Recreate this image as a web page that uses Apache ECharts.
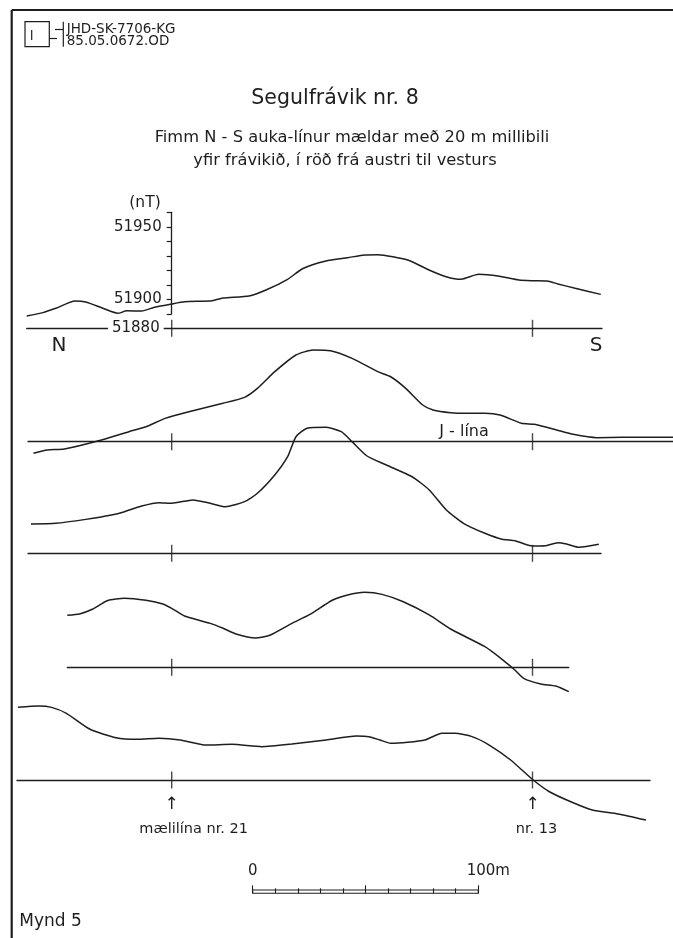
<!DOCTYPE html>
<html>
<head>
<meta charset="utf-8">
<script src="https://cdn.jsdelivr.net/npm/echarts@6/dist/echarts.min.js"></script>
<style>
html,body{margin:0;padding:0;background:#fff;}
#c{width:673px;height:938px;}
</style>
</head>
<body>
<div id="c"></div>
<script>
// ================= DATA =================
// distance along each N-S line in metres (0 = mælilína nr. 21, 160 = nr. 13)
// Profile 1 (easternmost) - total field in nT
const dist1 = [-64.3,-57.1,-51.4,-42.9,-38.1,-30.5,-23.8,-20.0,-13.3,-7.6,0,5.7,18.0,22.7,34.3,41.8,51.4,58.0,68.4,78.0,85.6,91.4,104.7,114.1,121.7,128.3,136.1,144.7,154.0,159.8,166.4,171.3,178.9,190.3];
const field1 = [51888.5,51890.8,51893.8,51898.8,51898.1,51893.8,51890.3,51892.1,51891.9,51894.5,51896.8,51898.3,51899.0,51900.9,51902.3,51906.4,51913.8,51921.1,51926.4,51928.7,51930.6,51930.8,51927.1,51920.2,51915.6,51913.8,51917.2,51916.1,51913.3,51912.8,51912.6,51910.6,51907.6,51903.4];
// Profile 2 (J-lína) - nT above the line's base level
const dist2 = [-61.3,-55.2,-47.6,-32.4,-19.0,-11.4,-2.9,7.6,22.7,32.3,38.0,45.7,55.1,62.8,70.4,80.0,91.4,97.1,103.8,111.3,115.9,123.7,130.8,138.9,145.6,155.1,160.8,170.7,178.0,188.5,199.8,222.3];
const anom2 = [-8.0,-5.7,-5.0,0.7,6.9,10.3,16.1,20.7,26.5,30.6,36.8,48.3,59.8,63.2,62.8,57.5,48.3,44.8,36.8,25.3,21.9,20.0,19.6,19.6,18.4,12.7,12.0,8.1,5.1,2.8,3.0,3.0];
// Profile 3
const dist3 = [-62.4,-51.4,-38.1,-26.7,-20.9,-13.3,-5.7,0,9.4,17.1,23.8,32.3,38.0,45.7,51.4,55.1,60.0,68.5,75.2,80.0,86.6,95.2,106.6,114.2,121.8,129.4,138.9,146.5,152.2,159.9,165.5,171.3,175.1,180.8,189.4];
const anom3 = [20.2,20.7,23.4,26.4,28.7,32.6,34.9,34.5,36.8,34.5,32.1,35.6,41.4,54.0,66.6,80.4,86.2,86.9,83.9,77.0,67.1,60.9,52.8,43.7,29.9,20.7,13.8,9.7,8.7,5.0,5.2,7.3,6.4,4.1,6.2];
// Profile 4
const dist4 = [-46.3,-40.9,-35.2,-28.6,-20.9,-11.4,-3.9,0,5.7,17.1,22.8,28.5,37.1,43.8,53.3,60.9,71.4,78.0,85.6,93.3,102.7,114.2,123.7,138.9,146.5,152.2,156.1,163.7,170.3,176.1];
const anom4 = [35.9,36.8,40.0,45.9,47.6,46.2,43.7,40.7,35.4,30.3,26.9,23.0,20.2,22.3,30.3,36.1,46.4,49.9,51.7,50.3,45.2,36.1,26.4,14.2,5.5,-1.9,-7.6,-11.5,-12.9,-16.8];
// Profile 5 (westernmost)
const dist5 = [-68.2,-59.0,-53.3,-46.7,-36.2,-24.7,-15.3,-5.7,3.8,15.2,26.7,40.0,53.3,68.5,81.8,87.5,92.3,97.1,104.7,112.3,119.9,125.6,133.2,140.8,150.3,159.9,167.5,177.0,186.5,197.9,210.3];
const anom5 = [50.1,51.0,50.1,46.0,35.0,29.2,28.1,28.8,27.6,24.1,24.6,23.0,24.8,27.6,30.3,29.9,27.6,25.3,26.0,27.6,32.2,32.2,29.9,24.1,13.8,0.5,-8.1,-15.0,-20.7,-23.4,-27.6];

// extent of each drawn line (m)
const lineExtent1 = [-64.3, 190.8];
const lineExtent2 = [-63.7, 222.4];
const lineExtent3 = [-63.7, 190.4];
const lineExtent4 = [-46.3, 176.1];
const lineExtent5 = [-68.6, 212.1];

const surveyLineDist = [0, 160];
const surveyLineNames = ['mælilína nr. 21', 'nr. 13'];
const fieldBase = 51880;
const fieldAxisRange = [51890, 51960];
const fieldTickLabels = [51900, 51950];
const scaleBarRange = [0, 100];
const scaleBarLabels = [0, 100];

// ================= LAYOUT =================
const INK = '#1e1e1e';
const FONT = 'DejaVu Sans';
const PX0 = 171.7;        // pixel of 0 m
const PX_PER_M = 2.255;
const PX_PER_NT = 1.45;
const SPAN = 100;         // nT shown above each base line
const baselinePx = [328.3, 441.7, 553.3, 667.3, 780];

const profiles = [
  {x: dist1, y: field1, base: fieldBase, ext: lineExtent1},
  {x: dist2, y: anom2, base: 0, ext: lineExtent2},
  {x: dist3, y: anom3, base: 0, ext: lineExtent3},
  {x: dist4, y: anom4, base: 0, ext: lineExtent4},
  {x: dist5, y: anom5, base: 0, ext: lineExtent5}
];

const grids = [], xAxes = [], yAxes = [], series = [];
profiles.forEach((p, i) => {
  grids.push({
    left: PX0 + PX_PER_M * p.ext[0],
    width: PX_PER_M * (p.ext[1] - p.ext[0]),
    top: baselinePx[i] - SPAN * PX_PER_NT,
    height: SPAN * PX_PER_NT,
    containLabel: false, outerBoundsMode: 'none', show: false
  });
  xAxes.push({
    type: 'value', gridIndex: i, min: p.ext[0], max: p.ext[1],
    axisLine: {show: true, onZero: false, lineStyle: {color: INK, width: 1.3}},
    axisTick: {show: false}, axisLabel: {show: false}, splitLine: {show: false}
  });
  yAxes.push({type: 'value', gridIndex: i, min: p.base, max: p.base + SPAN, show: false});
  series.push({
    type: 'line', xAxisIndex: i, yAxisIndex: i,
    data: p.x.map((d, k) => [d, p.y[k]]),
    showSymbol: false, smooth: 0.2, clip: false, silent: true, z: 3,
    lineStyle: {color: INK, width: 1.5}
  });
  series.push({
    type: 'scatter', xAxisIndex: i, yAxisIndex: i,
    data: surveyLineDist.map(d => [d, p.base]),
    symbol: 'rect', symbolSize: [1.4, 17], clip: false, silent: true, z: 4,
    itemStyle: {color: INK}
  });
});

// bottom line labels (arrows + survey line names)
xAxes[4].axisLabel = {
  show: true, customValues: surveyLineDist, margin: 16, color: INK, fontFamily: FONT,
  formatter: v => (v === surveyLineDist[0]
      ? '{a|↑}\n{t|' + surveyLineNames[0] + '}'
      : '{a|↑}\n{s|' + surveyLineNames[1] + '}'),
  rich: {
    a: {fontSize: 17, lineHeight: 18, align: 'center', color: INK, fontFamily: FONT},
    t: {fontSize: 14.5, lineHeight: 30, align: 'center', padding: [0, 0, 0, 44], color: INK, fontFamily: FONT},
    s: {fontSize: 14.5, lineHeight: 30, align: 'center', padding: [0, 0, 0, 8], color: INK, fontFamily: FONT}
  }
};

// field scale (grid 5)
const fieldTop = baselinePx[0] - (fieldAxisRange[1] - fieldBase) * PX_PER_NT;
grids.push({left: PX0, width: 2, top: fieldTop,
  height: (fieldAxisRange[1] - fieldAxisRange[0]) * PX_PER_NT,
  containLabel: false, outerBoundsMode: 'none', show: false});
xAxes.push({type: 'value', gridIndex: 5, min: 0, max: 1, show: false});
yAxes.push({
  type: 'value', gridIndex: 5, min: fieldAxisRange[0], max: fieldAxisRange[1], interval: 10,
  position: 'left',
  name: '(nT)', nameLocation: 'end', nameGap: 1,
  nameTextStyle: {align: 'right', padding: [0, 11, 0, 0], fontSize: 15.5, color: INK, fontFamily: FONT},
  axisLine: {show: true, lineStyle: {color: INK, width: 1.3}},
  axisTick: {show: true, length: 5, lineStyle: {color: INK, width: 1.2}},
  axisLabel: {customValues: fieldTickLabels, margin: 10, fontSize: 15, color: INK, fontFamily: FONT,
    formatter: v => String(v)},
  splitLine: {show: false}
});

// base level label (grid 6)
grids.push({left: PX0, width: 2, top: baselinePx[0] - 10 * PX_PER_NT, height: 10 * PX_PER_NT,
  containLabel: false, outerBoundsMode: 'none', show: false});
xAxes.push({type: 'value', gridIndex: 6, min: 0, max: 1, show: false});
yAxes.push({
  type: 'value', gridIndex: 6, min: fieldBase, max: fieldBase + 10, position: 'left', z: 10,
  axisLine: {show: false}, axisTick: {show: false}, splitLine: {show: false},
  axisLabel: {customValues: [fieldBase], margin: 8, fontSize: 15, color: INK, fontFamily: FONT,
    formatter: v => String(v),
    backgroundColor: '#fff', padding: [2, 4, 1, 4]}
});

// metre scale bar (grid 7)
grids.push({left: 252.7, width: 225.6, top: 890, height: 3.3,
  containLabel: false, outerBoundsMode: 'none', show: true,
  borderColor: INK, borderWidth: 1.1, backgroundColor: 'transparent'});
xAxes.push({
  type: 'value', gridIndex: 7, min: scaleBarRange[0], max: scaleBarRange[1], interval: 50,
  position: 'top',
  axisLine: {show: false},
  axisTick: {show: true, length: 8, lineStyle: {color: INK, width: 1.1}},
  minorTick: {show: true, splitNumber: 5, length: 5, lineStyle: {color: INK, width: 1.1}},
  axisLabel: {customValues: scaleBarLabels, margin: 11, fontSize: 15, color: INK, fontFamily: FONT,
    formatter: v => (v === scaleBarLabels[1] ? '{m|' + v + 'm}' : String(v)),
    rich: {m: {fontSize: 15, padding: [0, 0, 0, 20], align: 'center', color: INK, fontFamily: FONT}}},
  splitLine: {show: false}
});
yAxes.push({type: 'value', gridIndex: 7, min: 0, max: 1, show: false});

function txt(text, x, y, size, align) {
  return {type: 'text', x: x, y: y, silent: true,
    style: {text: text, fill: INK, fontSize: size, fontFamily: FONT,
      align: align || 'left', verticalAlign: 'middle'}};
}
function seg(x1, y1, x2, y2, w) {
  return {type: 'line', silent: true, shape: {x1, y1, x2, y2},
    style: {stroke: INK, lineWidth: w || 1.2}};
}

const graphics = [
  // frame
  seg(11.7, 10, 673, 10, 2.2),
  seg(11.7, 10, 11.7, 938, 2.2),
  // logo
  {type: 'rect', silent: true, shape: {x: 25, y: 21.7, width: 24.3, height: 25},
    style: {fill: 'none', stroke: INK, lineWidth: 1.2}},
  seg(31.7, 30, 31.7, 40),
  seg(63.3, 21.7, 63.3, 46.7),
  seg(55, 29.5, 63.3, 29.5),
  seg(49.3, 38.5, 57, 38.5),
  txt('JHD-SK-7706-KG', 66.7, 29.5, 13.5),
  txt('85.05.0672.OD', 66.7, 41.5, 13.5),
  // titles
  txt('Segulfrávik nr. 8', 335, 99, 20.5, 'center'),
  txt('Fimm N - S auka-línur mældar með 20 m millibili', 352, 138, 16.3, 'center'),
  txt('yfir frávikið, í röð frá austri til vesturs', 345, 161, 16.3, 'center'),
  // direction + line labels
  txt('N', 59, 346, 20, 'center'),
  txt('S', 596, 346, 20, 'center'),
  txt('J - lína', 439.3, 431.7, 16),
  txt('Mynd 5', 19.3, 922, 17)
];

const chart = echarts.init(document.getElementById('c'), null, {renderer: 'canvas'});
chart.setOption({
  animation: false,
  backgroundColor: '#fff',
  textStyle: {fontFamily: FONT, color: INK},
  grid: grids,
  xAxis: xAxes,
  yAxis: yAxes,
  series: series,
  graphic: {elements: graphics}
});
</script>
</body>
</html>
